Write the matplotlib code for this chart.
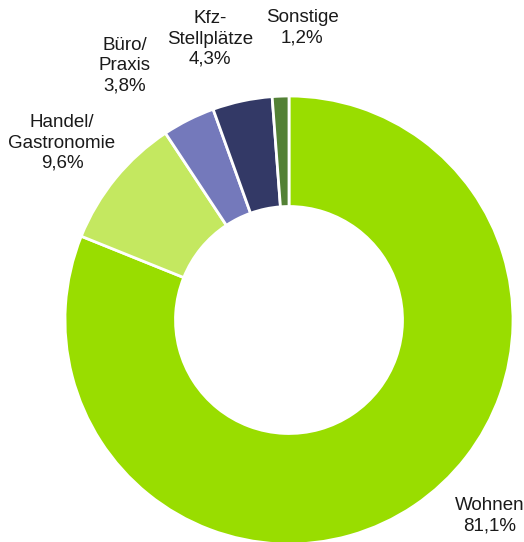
import matplotlib
matplotlib.use("Agg")
import matplotlib.pyplot as plt

# Anteile (in %)
categories = ["Wohnen", "Handel/\nGastronomie", "Büro/\nPraxis", "Kfz-\nStellplätze", "Sonstige"]
shares = [81.1, 9.6, 3.8, 4.3, 1.2]
colors = ["#99DD00", "#C4E860", "#7479BB", "#333966", "#538135"]

# Label-Positionen (Pixel, y von oben)
label_pos = [(490, 516), (62, 143), (125, 66), (210, 39), (302, 28)]

W, H = 524, 542
plt.rcParams["font.family"] = ["Liberation Sans", "DejaVu Sans"]

fig = plt.figure(figsize=(W / 100, H / 100), dpi=100)
ax = fig.add_axes([0, 0, 1, 1])

ax.pie(
    shares,
    colors=colors,
    startangle=90,
    counterclock=False,
    center=(289, H - 320),
    radius=224,
    wedgeprops={"width": 110.5, "edgecolor": "white", "linewidth": 2},
    frame=True,
)
ax.set_xlim(0, W)
ax.set_ylim(0, H)
ax.set_aspect("equal")
ax.axis("off")

for name, val, (x, y) in zip(categories, shares, label_pos):
    ax.text(
        x, H - y, f"{name}\n{val:.1f}%".replace(".", ","),
        ha="center", va="center", fontsize=13.5, color="#1a1a1a", linespacing=1.25,
    )

fig.savefig("out.png", dpi=100)
